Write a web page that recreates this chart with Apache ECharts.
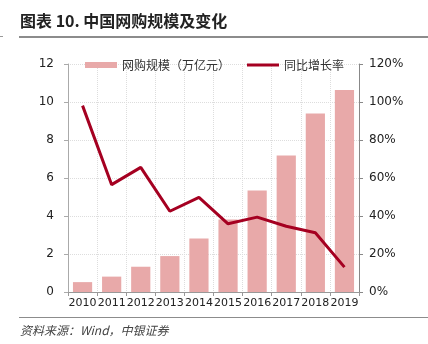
<!DOCTYPE html>
<html><head><meta charset="utf-8">
<script src="https://cdn.jsdelivr.net/npm/echarts@6/dist/echarts.min.js"></script>
<style>html,body{margin:0;padding:0;background:#fff}#c{width:428px;height:344px}</style>
</head><body><div id="c"></div>
<script>
const years = ['2010','2011','2012','2013','2014','2015','2016','2017','2018','2019'];
const scale = [0.52,0.81,1.33,1.89,2.82,3.81,5.34,7.19,9.39,10.63];
const growth = [98.1,56.5,65.6,42.5,49.8,35.9,39.4,34.6,31.2,13.1];
const titleText = '图表 10. 中国网购规模及变化';
const sourceText = '资料来源：Wind，中银证券';
const barName = '网购规模（万亿元）';
const lineName = '同比增长率';

const chart = echarts.init(document.getElementById('c'), null, {renderer:'canvas'});
const font = 'DejaVu Sans';
const cjk = '"Noto Sans CJK SC"';
chart.setOption({
  animation:false,
  graphic:[
    {type:'text', left:20, top:13, style:{text:titleText, font:'bold 16px ' + cjk, fill:'#222'}},
    {type:'rect', shape:{x:19,y:36,width:409,height:2}, style:{fill:'#8c8c8c'}},
    {type:'rect', shape:{x:0,y:36,width:3,height:1}, style:{fill:'#999'}},
    {type:'rect', shape:{x:19,y:317,width:409,height:1}, style:{fill:'#8c8c8c'}},
    {type:'text', left:20, top:324, style:{text:sourceText, font:'italic 12px ' + cjk, fill:'#444'}}
  ],
  legend:[
    {top:59, left:85, padding:0, itemWidth:32, itemHeight:6,
     textStyle:{fontFamily:'Noto Sans CJK SC', fontSize:12, color:'#333'},
     data:[{name:barName, icon:'rect'}]},
    {top:59, left:247, padding:0, itemWidth:32, itemHeight:3,
     textStyle:{fontFamily:'Noto Sans CJK SC', fontSize:12, color:'#333'},
     data:[{name:lineName, icon:'path://M0,0 L32,0 L32,3 L0,3 Z'}]}
  ],
  grid:{left:68, right:69, top:64, bottom:52},
  xAxis:{
    type:'category', data:years,
    axisLine:{lineStyle:{color:'#999'}},
    axisTick:{show:true, length:4, lineStyle:{color:'#999'}},
    axisLabel:{fontFamily:font, fontSize:11, color:'#222', margin:6, interval:0},
    splitLine:{show:true, lineStyle:{color:'#ddd', type:'dotted'}}
  },
  yAxis:[
    {type:'value', min:0, max:12, interval:2,
     axisLine:{show:true, lineStyle:{color:'#aaa'}},
     axisTick:{show:true, length:4, lineStyle:{color:'#aaa'}},
     axisLabel:{fontFamily:font, fontSize:12, color:'#222', margin:14},
     splitLine:{show:true, lineStyle:{color:'#ddd', type:'dotted'}}},
    {type:'value', min:0, max:120, interval:20,
     axisLine:{show:true, lineStyle:{color:'#888'}},
     axisTick:{show:true, length:4, lineStyle:{color:'#888'}},
     axisLabel:{fontFamily:font, fontSize:12, color:'#222', margin:10, formatter:'{value}%'},
     splitLine:{show:false}}
  ],
  series:[
    {name:barName, type:'bar', data:scale, barWidth:'66%', itemStyle:{color:'#E8A9A9'}},
    {name:lineName, type:'line', yAxisIndex:1, data:growth, symbol:'none',
     lineStyle:{color:'#A50021', width:3}, itemStyle:{color:'#A50021'}}
  ]
});
</script></body></html>
